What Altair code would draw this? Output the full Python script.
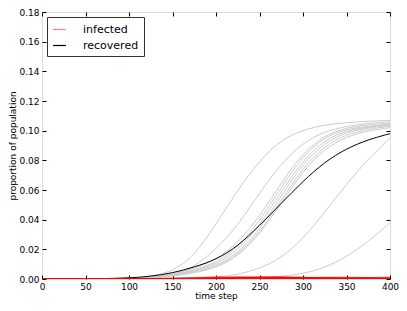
import altair as alt
import pandas as pd

x_steps = [0, 50, 100, 125, 150, 175, 200, 225, 250, 275, 300, 325, 350, 375, 400]

# individual runs: proportion recovered (grey)
rec_a = [0, 0, 0.0005, 0.0017, 0.005, 0.0155, 0.037, 0.060, 0.080, 0.094, 0.1005, 0.104, 0.1055, 0.1063, 0.107]
rec_b = [0, 0, 0.0002, 0.0008, 0.0025, 0.008, 0.020, 0.036, 0.058, 0.078, 0.092, 0.0995, 0.103, 0.105, 0.106]
rec_c1 = [0, 0, 0.0004, 0.0012, 0.0035, 0.007, 0.013, 0.024, 0.042, 0.065, 0.085, 0.097, 0.102, 0.104, 0.105]
rec_c2 = [0, 0, 0.0003, 0.001, 0.003, 0.006, 0.011, 0.021, 0.039, 0.062, 0.083, 0.096, 0.101, 0.103, 0.1045]
rec_c3 = [0, 0, 0.0003, 0.001, 0.0028, 0.0055, 0.010, 0.019, 0.036, 0.059, 0.080, 0.094, 0.100, 0.1025, 0.104]
rec_c4 = [0, 0, 0.0002, 0.0008, 0.0025, 0.005, 0.009, 0.017, 0.033, 0.056, 0.078, 0.092, 0.099, 0.102, 0.1035]
rec_c5 = [0, 0, 0.0002, 0.0008, 0.0022, 0.0045, 0.008, 0.016, 0.031, 0.053, 0.075, 0.090, 0.0975, 0.101, 0.103]
rec_c6 = [0, 0, 0.0002, 0.0007, 0.002, 0.004, 0.0075, 0.015, 0.030, 0.051, 0.073, 0.088, 0.096, 0.100, 0.102]
rec_d = [0, 0, 0, 0, 0.0002, 0.0005, 0.001, 0.003, 0.007, 0.014, 0.027, 0.045, 0.064, 0.081, 0.095]
rec_e = [0, 0, 0, 0, 0, 0, 0.0001, 0.0003, 0.0008, 0.0017, 0.0035, 0.0075, 0.015, 0.025, 0.038]

# mean proportion recovered (black)
rec_mean = [0, 0, 0.0006, 0.0018, 0.004, 0.008, 0.013, 0.022, 0.036, 0.051, 0.066, 0.079, 0.088, 0.094, 0.098]

# individual runs: proportion infected (red)
inf_1 = [0, 0, 0.0001, 0.0002, 0.0004, 0.0008, 0.0012, 0.0012, 0.0009, 0.0005, 0.0002, 0.0001, 0, 0, 0]
inf_2 = [0, 0, 0, 0.0001, 0.0002, 0.0004, 0.0007, 0.0010, 0.0011, 0.0009, 0.0005, 0.0002, 0.0001, 0, 0]
inf_3 = [0, 0, 0, 0, 0.0001, 0.0002, 0.0004, 0.0008, 0.0012, 0.0013, 0.0009, 0.0004, 0.0002, 0.0001, 0]
inf_4 = [0, 0, 0, 0, 0.0001, 0.0002, 0.0003, 0.0006, 0.0010, 0.0012, 0.0010, 0.0006, 0.0003, 0.0001, 0]
inf_5 = [0, 0, 0, 0, 0, 0, 0.0001, 0.0002, 0.0003, 0.0005, 0.0008, 0.0010, 0.0010, 0.0008, 0.0005]
inf_6 = [0, 0, 0, 0, 0, 0, 0, 0, 0.0001, 0.0001, 0.0002, 0.0004, 0.0006, 0.0008, 0.0010]

x_ticks = [0, 50, 100, 150, 200, 250, 300, 350, 400]
y_ticks = [0.0, 0.02, 0.04, 0.06, 0.08, 0.10, 0.12, 0.14, 0.16, 0.18]
legend_labels = ["infected", "recovered"]
legend_colors = ["#ff8080", "#000000"]


def long_df(runs):
    rows = []
    for name, vals in runs.items():
        for x, v in zip(x_steps, vals):
            rows.append({"step": x, "value": v, "run": name})
    return pd.DataFrame(rows)


gray_df = long_df({"a": rec_a, "b": rec_b, "c1": rec_c1, "c2": rec_c2, "c3": rec_c3,
                   "c4": rec_c4, "c5": rec_c5, "c6": rec_c6, "d": rec_d, "e": rec_e})
red_df = long_df({"1": inf_1, "2": inf_2, "3": inf_3, "4": inf_4, "5": inf_5, "6": inf_6})
mean_df = pd.DataFrame({"step": x_steps, "value": rec_mean, "series": "recovered"})

xs = alt.Scale(domain=[0, 400], nice=False, zero=False)
ys = alt.Scale(domain=[0, 0.18], nice=False)

txt = dict(labelFont="DejaVu Sans", labelFontSize=9, labelColor="black",
           titleFont="DejaVu Sans", titleFontSize=9, titleFontWeight="normal", titleColor="black")
tick_common = dict(offset=-4, tickSize=4, domain=False, grid=False, tickColor="black", **txt)

gray = alt.Chart(gray_df).mark_line(color="#cccccc", strokeWidth=1, interpolate="basis", clip=True).encode(
    x=alt.X("step:Q", scale=xs, axis=alt.Axis(orient="bottom", values=x_ticks, title="time step",
                                              labelPadding=3, titlePadding=0, labelFlush=False, **tick_common)),
    y=alt.Y("value:Q", scale=ys, axis=alt.Axis(orient="left", values=y_ticks, format=".2f",
                                               title="proportion of population",
                                               labelPadding=3, titlePadding=1, **tick_common)),
    detail="run:N",
)

black = alt.Chart(mean_df).mark_line(strokeWidth=1, interpolate="basis", clip=True).encode(
    x=alt.X("step:Q", scale=xs, axis=None),
    y=alt.Y("value:Q", scale=ys, axis=None),
    color=alt.Color("series:N", scale=alt.Scale(domain=legend_labels, range=legend_colors),
                    legend=alt.Legend(title=None, orient="top-left", offset=5, symbolType="stroke",
                                      symbolSize=170, symbolStrokeWidth=1.2, labelFontSize=11,
                                      labelFont="DejaVu Sans", labelColor="black", padding=5,
                                      rowPadding=3, strokeColor="#333333", fillColor="white",
                                      labelOffset=16, cornerRadius=0)),
)

red = alt.Chart(red_df).mark_line(color="red", strokeWidth=1.5, opacity=0.7, interpolate="basis", clip=True).encode(
    x=alt.X("step:Q", scale=xs, axis=alt.Axis(orient="top", values=x_ticks, labels=False, title=None, **tick_common)),
    y=alt.Y("value:Q", scale=ys, axis=alt.Axis(orient="right", values=y_ticks, labels=False, title=None, **tick_common)),
    detail="run:N",
)

chart = alt.layer(gray, black, red).resolve_axis(x="independent", y="independent").properties(
    width=348, height=267,
    autosize=alt.AutoSizeParams(type="none"),
    padding={"left": 34, "top": 4, "right": 9, "bottom": 24},
).configure_view(stroke="black", strokeWidth=1).configure(background="white")

chart.save("out.html", embed_options={"renderer": "svg", "actions": False})
